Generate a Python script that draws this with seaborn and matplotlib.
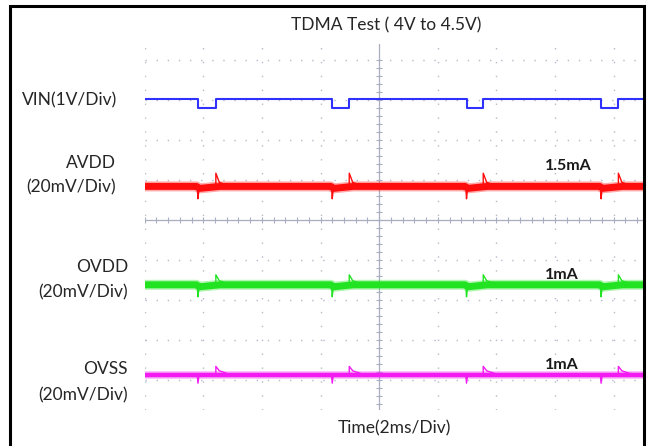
import numpy as np
import pandas as pd
import seaborn as sns
import matplotlib.pyplot as plt
from matplotlib.patches import Rectangle

# Leitura da tela do osciloscópio (tempo em ms, 2 ms/div; eixo vertical em divisões)
t_left, t_right = -8.0, 9.0
y_bottom, y_top = -4.75, 4.4

# rajadas TDMA (início e fim de cada pulso, ms)
burst_start = [-6.18, -1.60, 2.98, 7.57]
burst_end = [-5.57, -1.02, 3.55, 8.16]

# VIN (1V/Div): nível alto e nível baixo durante a rajada
vin_high = 3.03
vin_low = 2.79

# trilhos: nível base, pico para baixo (início) e pico para cima (fim da rajada), em div
rails = ["AVDD", "OVDD", "OVSS"]
rail_base = [0.84, -1.62, -3.87]
rail_down = [0.53, -1.92, -4.08]
rail_up = [1.17, -1.37, -3.66]
rail_sag = [0.05, 0.05, 0.0]
rail_color = ["#ff0d0d", "#22e322", "#f21bf2"]
rail_width = [5.0, 5.0, 3.2]
rail_current = ["1.5mA", "1mA", "1mA"]
current_t = [6.44, 6.24, 6.24]
current_y = [1.35, -1.37, -3.62]

sns.set_theme(style="white")
plt.rcParams['font.family'] = ['Lato', 'DejaVu Sans']

fig = plt.figure(figsize=(6.48, 4.46), dpi=100)
W, H = 648.0, 446.0
ax = fig.add_axes([144.6 / W, 1 - 410 / H, (643 - 144.6) / W, (410 - 44) / H])
ax.set_xlim(t_left, t_right)
ax.set_ylim(y_bottom, y_top)
ax.set_axis_off()

# grade pontilhada
grid_c = "#b4bac8"
for gx in np.arange(-8, 9.01, 2):
    if gx != 0:
        ax.axvline(gx, color=grid_c, lw=1.0, ls=(0, (1, 9)), zorder=0)
for gy in np.arange(-4, 4.01, 1):
    if gy != 0:
        ax.axhline(gy, color=grid_c, lw=1.0, ls=(0, (1, 7)), zorder=0)
# eixos centrais com marcas menores
ax.axvline(0, color="#a8aec0", lw=0.9, zorder=0)
ax.axhline(0, color="#a8aec0", lw=0.9, zorder=0)
ax.plot(np.zeros(44), np.arange(-4.6, 4.2, 0.2), ls="none", marker="_", ms=5, mew=0.8, color="#a8aec0", zorder=0)
ax.plot(np.arange(-8, 9.01, 0.4), np.zeros(43), ls="none", marker="|", ms=5, mew=0.8, color="#a8aec0", zorder=0)

# VIN
t_vin = [t_left]
v_vin = [vin_high]
for s, e in zip(burst_start, burst_end):
    t_vin += [s, s, e, e]
    v_vin += [vin_high, vin_low, vin_low, vin_high]
t_vin.append(t_right)
v_vin.append(vin_high)
vin_df = pd.DataFrame({"t": t_vin, "v": v_vin})
sns.lineplot(data=vin_df, x="t", y="v", sort=False, estimator=None, color="#3030ff", lw=1.5, ax=ax)

# trilhos AVDD / OVDD / OVSS
for i, name in enumerate(rails):
    base, sag = rail_base[i], rail_sag[i]
    tt = [t_left]
    vv = [base]
    for s, e in zip(burst_start, burst_end):
        tt += [s - 0.05, s + 0.05, e, e + 0.15]
        vv += [base, base - sag, base - sag * 0.2, base]
    tt.append(t_right)
    vv.append(base)
    band = pd.DataFrame({"t": tt, "v": vv})
    # borda difusa do ruído + núcleo
    sns.lineplot(data=band, x="t", y="v", sort=False, estimator=None,
                 color=rail_color[i], lw=rail_width[i] + 2.2, alpha=0.35, ax=ax)
    sns.lineplot(data=band, x="t", y="v", sort=False, estimator=None,
                 color=rail_color[i], lw=rail_width[i], ax=ax)
    for s, e in zip(burst_start, burst_end):
        ax.plot([s - 0.02, s, s + 0.03], [base - 0.05, rail_down[i], base - sag - 0.05],
                color=rail_color[i], lw=1.0)
        ax.plot([e, e, e + 0.12, e + 0.4], [base, rail_up[i], base + 0.1, base + 0.03],
                color=rail_color[i], lw=1.0)
    ax.text(current_t[i], current_y[i], rail_current[i], fontsize=11.5, fontweight="bold",
            color="#1a1a1a", ha="center", va="center")

# moldura preta
fig.patches.append(Rectangle((10 / W, -0.1), (644 - 10) / W, 1.1 - 6 / H,
                             transform=fig.transFigure, fill=False, ec="black", lw=2.2))

# textos
txt_c = "#262626"
fig.text(386 / W, 1 - 25 / H, "TDMA Test ( 4V to 4.5V)", ha="center", va="center", fontsize=12.5, color=txt_c)
fig.text(394 / W, 1 - 428 / H, "Time(2ms/Div)", ha="center", va="center", fontsize=12.5, color=txt_c)
left_labels = [("VIN(1V/Div)", 117, 100), ("AVDD", 116, 163), ("(20mV/Div)", 116, 187),
               ("OVDD", 128, 267), ("(20mV/Div)", 128, 292), ("OVSS", 128, 369), ("(20mV/Div)", 128, 395)]
for lab, x, y in left_labels:
    fig.text(x / W, 1 - y / H, lab, ha="right", va="center", fontsize=12.5, color=txt_c)

fig.savefig("out.png", dpi=100)
